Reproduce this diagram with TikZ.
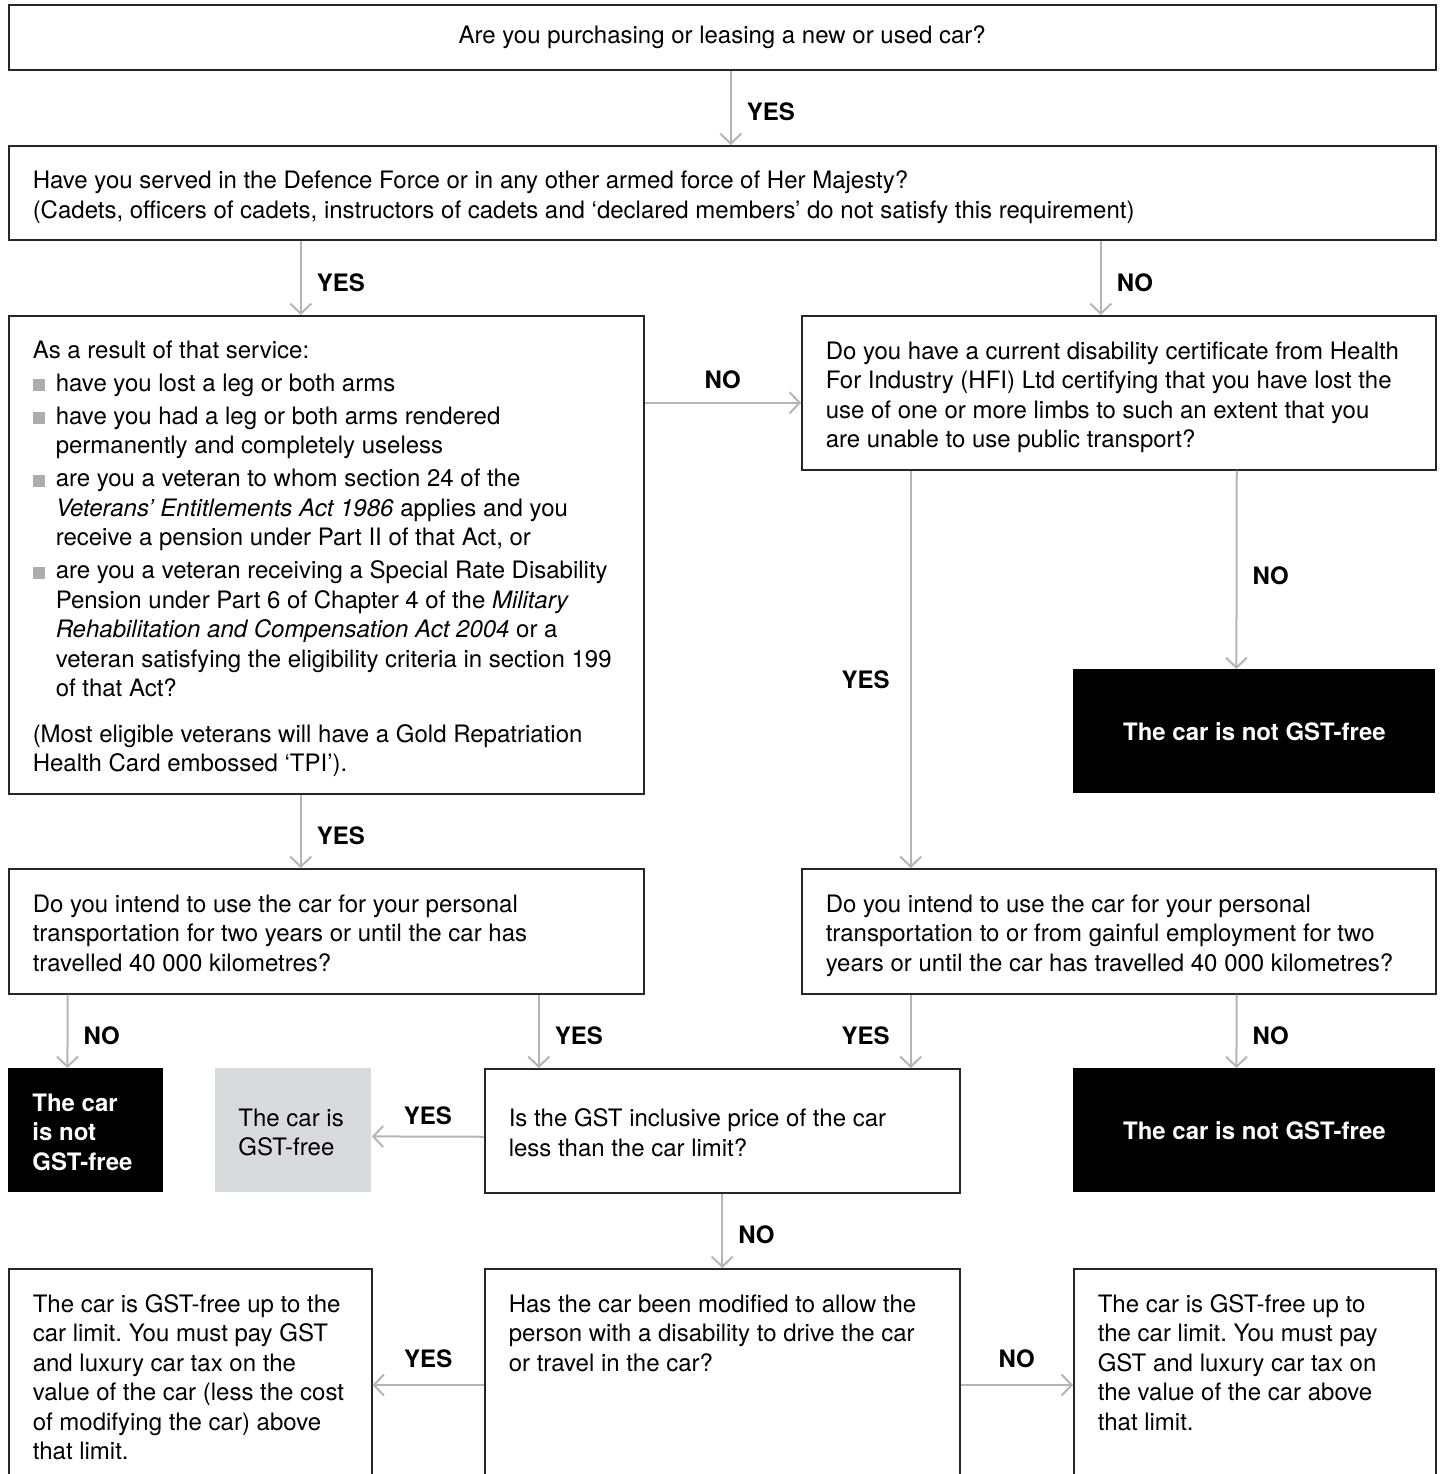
\documentclass[tikz,border=0pt]{standalone}
\usepackage{fontspec}
\setmainfont{TeX Gyre Heros}
\usetikzlibrary{arrows.meta}

\definecolor{linegrey}{HTML}{B5B5B5}
\definecolor{bulletgrey}{HTML}{ADADAD}
\definecolor{freegrey}{HTML}{D9DADB}
\newcommand{\bodyfont}{\fontsize{12}{14.75}\selectfont\frenchspacing}
\newcommand{\sqbul}{\makebox[11.5pt][l]{\textcolor{bulletgrey}{\rule{6pt}{6pt}}}}
\newcommand{\hangin}{\hspace*{11.5pt}}
\newcommand{\boxlines}[3][c]{\makebox[#2][l]{\begin{tabular}[#1]{@{}l@{}}\rule{0pt}{15pt}#3\end{tabular}}}

\tikzset{
  qbox/.style={draw=black!85, line width=0.75pt, anchor=north west, inner xsep=12pt, inner ysep=0pt, font=\bodyfont},
  openbox/.style={qbox, inner ysep=6.75pt, text depth=150pt},
  notfree/.style={fill=black, text=white, anchor=north west, inner xsep=12pt, inner ysep=0pt, font=\bodyfont\bfseries},
  isfree/.style={fill=freegrey, anchor=north west, inner xsep=11.5pt, inner ysep=0pt, font=\bodyfont},
  arr/.style={draw=linegrey, line width=1pt, -{Straight Barb[length=5pt,width=10.5pt]}},
  lab/.style={font=\bodyfont\bfseries, inner sep=0pt}
}

\begin{document}
\begin{tikzpicture}[x=0.5pt,y=-0.5pt]
\useasboundingbox (0,0) rectangle (1441,1474);
\clip (0,0) rectangle (1441,1474);

% questions
\node[qbox, minimum width=713.5pt, minimum height=32.5pt] (buy) at (8,4) {Are you purchasing or leasing a new or used car?};
\node[qbox, minimum width=713.5pt, minimum height=47pt] (serve) at (8,145) {\boxlines{689.5pt}{Have you served in the Defence Force or in any other armed force of Her Majesty?\\
(Cadets, officers of cadets, instructors of cadets and ‘declared members’ do not satisfy this requirement)}};
\node[qbox, minimum width=317.5pt, minimum height=239pt] (result) at (8,315) {\boxlines{293.5pt}{As a result of that service:\\[1.5pt]
\sqbul have you lost a leg or both arms\\[1.75pt]
\sqbul have you had a leg or both arms rendered\\
\hangin permanently and completely useless\\[1.75pt]
\sqbul are you a veteran to whom section 24 of the\\
\hangin \textit{Veterans’ Entitlements Act 1986} applies and you\\
\hangin receive a pension under Part II of that Act, or\\[1.75pt]
\sqbul are you a veteran receiving a Special Rate Disability\\
\hangin Pension under Part 6 of Chapter 4 of the \textit{Military}\\
\hangin \textit{Rehabilitation and Compensation Act 2004} or a\\
\hangin veteran satisfying the eligibility criteria in section 199\\
\hangin of that Act?\\[8pt]
(Most eligible veterans will have a Gold Repatriation\\
Health Card embossed ‘TPI’).}};
\node[qbox, minimum width=317pt, minimum height=77pt] (hfi) at (801,315) {\boxlines{293pt}{Do you have a current disability certificate from Health\\
For Industry (HFI) Ltd certifying that you have lost the\\
use of one or more limbs to such an extent that you\\
are unable to use public transport?}};
\node[notfree, minimum width=181pt, minimum height=62pt] (notA) at (1073,669) {The car is not GST-free};
\node[qbox, minimum width=317.5pt, minimum height=62.5pt] (usevet) at (8,868) {\boxlines{293.5pt}{Do you intend to use the car for your personal\\
transportation for two years or until the car has\\
travelled 40 000 kilometres?}};
\node[qbox, minimum width=317pt, minimum height=62.5pt] (usework) at (801,868) {\boxlines{293pt}{Do you intend to use the car for your personal\\
transportation to or from gainful employment for two\\
years or until the car has travelled 40 000 kilometres?}};
\node[notfree, minimum width=77.5pt, minimum height=62pt] (notB) at (8,1068) {\boxlines{53.5pt}{The car\\is not\\GST-free}};
\node[isfree, minimum width=78pt, minimum height=62pt] (free) at (215,1068) {\boxlines{55pt}{The car is\\GST-free}};
\node[qbox, minimum width=237.5pt, minimum height=62pt] (price) at (484,1068) {\boxlines{213.5pt}{Is the GST inclusive price of the car\\
less than the car limit?}};
\node[notfree, minimum width=181pt, minimum height=62pt] (notC) at (1073,1068) {The car is not GST-free};

% outcomes at the foot
\node[openbox, minimum width=181.5pt] (partfree) at (8,1268) {\boxlines[t]{157.5pt}{The car is GST-free up to the\\
car limit. You must pay GST\\
and luxury car tax on the\\
value of the car (less the cost\\
of modifying the car) above\\
that limit.}};
\node[openbox, minimum width=237.5pt] (modified) at (484,1268) {\boxlines[t]{213.5pt}{Has the car been modified to allow the\\
person with a disability to drive the car\\
or travel in the car?}};
\node[openbox, minimum width=181pt] (partfreeB) at (1073,1268) {\boxlines[t]{157pt}{The car is GST-free up to\\
the car limit. You must pay\\
GST and luxury car tax on\\
the value of the car above\\
that limit.}};

% connectors
\draw[arr] ([xshift=4.25pt]buy.south) -- ([xshift=4.25pt]serve.north) node[lab, midway, right=7.5pt, yshift=-2pt] {YES};
\draw[arr] ([xshift=-210.75pt]serve.south) -- ([xshift=-12.75pt]result.north) node[lab, midway, right=7.5pt, yshift=-2.5pt] {YES};
\draw[arr] ([xshift=189.25pt]serve.south) -- ([xshift=-9pt]hfi.north) node[lab, midway, right=7.5pt, yshift=-2.5pt] {NO};
\draw[arr] ([yshift=76pt]result.east) -- ([yshift=-5pt]hfi.west) node[lab, midway, above=6.5pt] {NO};
\draw[arr] ([xshift=-104pt]hfi.south) -- ([xshift=-104pt]usework.north) node[lab, midway, left=10pt, yshift=-5pt] {YES};
\draw[arr] ([xshift=59pt]hfi.south) -- ([xshift=-9pt]notA.north) node[lab, midway, right=7.5pt, yshift=-3pt] {NO};
\draw[arr] ([xshift=-12.75pt]result.south) -- ([xshift=-12.75pt]usevet.north) node[lab, midway, right=7.5pt, yshift=-2pt] {YES};
\draw[arr] ([xshift=-129.25pt]usevet.south) -- ([xshift=-9.25pt]notB.north) node[lab, midway, right=7.5pt, yshift=-2pt] {NO};
\draw[arr] ([xshift=106.25pt]usevet.south) -- ([xshift=-91.75pt]price.north) node[lab, midway, right=7.5pt, yshift=-2pt] {YES};
\draw[arr] ([xshift=-104pt]usework.south) -- ([xshift=94.25pt]price.north) node[lab, midway, left=10pt, yshift=-2pt] {YES};
\draw[arr] ([xshift=59pt]usework.south) -- ([xshift=-9pt]notC.north) node[lab, midway, right=7.5pt, yshift=-2pt] {NO};
\draw[arr] ([yshift=-3pt]price.west) -- ([yshift=-3pt]free.east) node[lab, midway, above=5.2pt] {YES};
\draw[arr] (price.south) -- (modified.north) node[lab, midway, right=7.5pt, yshift=-2pt] {NO};
\draw[arr] ([yshift=-58.5pt]modified.north west) -- ([yshift=-58.5pt]partfree.north east) node[lab, midway, above=8.2pt] {YES};
\draw[arr] ([yshift=-58.5pt]modified.north east) -- ([yshift=-58.5pt]partfreeB.north west) node[lab, midway, above=8.2pt] {NO};
\end{tikzpicture}
\end{document}
